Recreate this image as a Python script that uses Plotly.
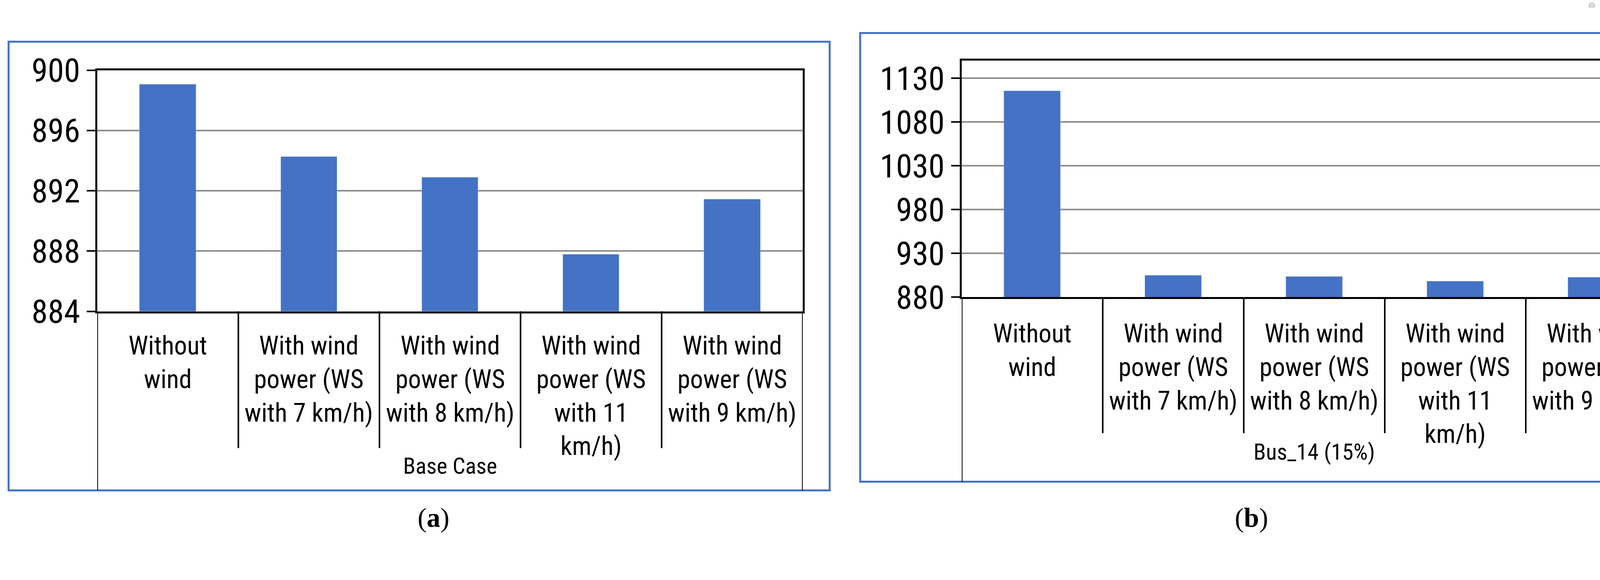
import plotly.graph_objects as go

categories_a = ["Without<br>wind", "With wind<br>power (WS<br>with 7 km/h)", "With wind<br>power (WS<br>with 8 km/h)",
                "With wind<br>power (WS<br>with 11<br>km/h)", "With wind<br>power (WS<br>with 9 km/h)"]
categories_b = categories_a
values_a = [899.06, 894.26, 892.89, 887.78, 891.44]
values_b = [1115.8, 904.9, 903.7, 898.2, 902.5]
group_a = "Base Case"
group_b = "Bus_14 (15%)"
ticks_a = [884, 888, 892, 896, 900]
ticks_b = [880, 930, 980, 1030, 1080, 1130]

W, H = 4329, 1484
FONT = "Liberation Sans Narrow, Roboto Condensed, Liberation Sans, sans-serif"
BLUE = "#4472C4"

fig = go.Figure()
xs = list(range(5))
fig.add_bar(x=xs, y=values_a, marker_color=BLUE, width=0.4, xaxis="x", yaxis="y")
fig.add_bar(x=xs, y=values_b, marker_color=BLUE, width=0.4, xaxis="x2", yaxis="y2")

def py(p):
    return 1 - p / H

panels = [
    dict(xd=[249 / W, 2055 / W], top=140, bot=801, rng=[884, 900], ticks=ticks_a, ax="x", ay="y",
         frame=(22, 62, 2124, 1292), divbot=1176, lab_top=852, grp_y=1263, grp=group_a, cats=categories_a,
         cap="(<b>a</b>)", capx=1067),
    dict(xd=[2462 / W, 4267 / W], top=114, bot=762, rng=[880, 1150], ticks=ticks_b, ax="x2", ay="y2",
         frame=(2202, 38, 4307, 1268), divbot=1135, lab_top=819, grp_y=1225, grp=group_b, cats=categories_b,
         cap="(<b>b</b>)", capx=3249),
]

shapes, annots = [], []
for i, p in enumerate(panels):
    xk = "xaxis" if i == 0 else "xaxis2"
    yk = "yaxis" if i == 0 else "yaxis2"
    fig.update_layout(**{
        xk: dict(domain=p["xd"], range=[-0.5, 4.5], anchor=p["ay"], showticklabels=False, showgrid=False,
                 showline=True, linecolor="black", linewidth=5, mirror=True, zeroline=False, fixedrange=True),
        yk: dict(domain=[py(p["bot"]), py(p["top"])], range=p["rng"], anchor=p["ax"], tickvals=p["ticks"],
                 showgrid=True, gridcolor="#8c8c8c", gridwidth=4, showline=True, linecolor="black", linewidth=5,
                 mirror=True, ticks="outside", ticklen=22, tickwidth=4, tickcolor="black",
                 tickfont=dict(size=84, color="black", family=FONT), zeroline=False),
    })
    x0, y0, x1, y1 = p["frame"]
    shapes.append(dict(type="rect", xref="paper", yref="paper", x0=x0 / W, x1=x1 / W, y0=py(y1), y1=py(y0),
                       line=dict(color=BLUE, width=5), layer="above"))
    xr = p["ax"]
    for k in range(6):
        bottom = y1 if k in (0, 5) else p["divbot"]
        shapes.append(dict(type="line", xref=xr, yref="paper", x0=k - 0.5, x1=k - 0.5,
                           y0=py(p["bot"]), y1=py(bottom), line=dict(color="black", width=4)))
    for k, c in enumerate(p["cats"]):
        annots.append(dict(x=k, xref=xr, y=py(p["lab_top"]), yref="paper", yanchor="top", text=c,
                           showarrow=False, font=dict(size=66, family=FONT, color="black")))
    annots.append(dict(x=2, xref=xr, y=py(p["grp_y"]), yref="paper", text=p["grp"], showarrow=False,
                       font=dict(size=58, family=FONT, color="black")))
    annots.append(dict(x=p["capx"] / W, xref="paper", y=py(1410), yref="paper", text=p["cap"], showarrow=False,
                       font=dict(size=70, family="Liberation Serif, DejaVu Serif, serif", color="black")))

fig.update_layout(width=W, height=H, margin=dict(l=0, r=0, t=0, b=0), showlegend=False,
                  plot_bgcolor="white", paper_bgcolor="white", shapes=shapes, annotations=annots, bargap=0)
fig.write_html("out.html")
with open("out.html", encoding="utf-8") as f:
    html = f.read()
html = html.replace("<head>", "<head><style>html,body{margin:0;padding:0;overflow:hidden}</style>", 1)
with open("out.html", "w", encoding="utf-8") as f:
    f.write(html)
